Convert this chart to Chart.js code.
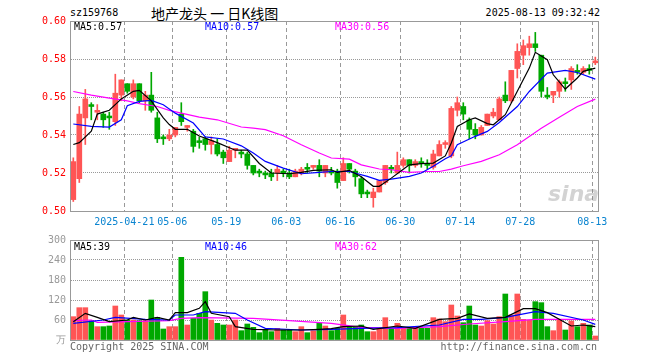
<!DOCTYPE html>
<html>
<head>
<meta charset="utf-8">
<script src="https://cdn.jsdelivr.net/npm/chart.js@4.4.1/dist/chart.umd.min.js"></script>
<style>
body { margin: 0; background: #fff; width: 660px; height: 360px; position: relative; overflow: hidden;
       font-family: "DejaVu Sans Mono", monospace; font-size: 10px; }
.t { position: absolute; white-space: nowrap; line-height: 12px; }
.box { position: absolute; border: 1px solid #999; pointer-events: none; }
canvas { position: absolute; left: 0; }
</style>
</head>
<body>
<div class="t" style="left:70px;top:7px">sz159768</div>
<div class="t" style="left:151px;top:4px;font-family:'Noto Sans CJK SC';font-size:14px;line-height:18px">地产龙头 一 日K线图</div>
<div class="t" style="right:60px;top:7px">2025-08-13 09:32:42</div>

<canvas id="kline" width="660" height="232" style="top:0"></canvas>
<canvas id="vol" width="660" height="130" style="top:230px"></canvas>

<!-- 两个面板的外框 -->
<div class="box" style="left:70px;top:21px;width:527px;height:189px"></div>
<div class="box" style="left:70px;top:240px;width:527px;height:99px"></div>

<div class="t" style="left:74px;top:21px;color:#000">MA5:0.57</div>
<div class="t" style="left:205px;top:21px;color:#00f">MA10:0.57</div>
<div class="t" style="left:335px;top:21px;color:#f0f">MA30:0.56</div>
<div class="t" style="left:548px;top:181px;font:italic bold 22px 'DejaVu Sans';color:rgba(130,130,130,0.35)">sina</div>

<div class="t" style="left:74px;top:241px;color:#000">MA5:39</div>
<div class="t" style="left:205px;top:241px;color:#00f">MA10:46</div>
<div class="t" style="left:335px;top:241px;color:#f0f">MA30:62</div>

<div class="t" style="left:70px;top:341px;color:#666">Copyright 2025 SINA.COM</div>
<div class="t" style="right:63px;top:341px;color:#666">http://finance.sina.com.cn</div>

<script>
// 日K数据 2025-04-08 .. 2025-08-13
const opens  = [0.506,0.517,0.549,0.556,0.552,0.551,0.550,0.547,0.561,0.567,
                0.560,0.567,0.558,0.561,0.549,0.539,0.538,0.540,0.551,0.544,
                0.542,0.537,0.538,0.535,0.535,0.531,0.526,0.532,0.531,0.530,
                0.524,0.521,0.520,0.520,0.520,0.521,0.520,0.518,0.520,0.523,
                0.523,0.524,0.520,0.521,0.521,0.516,0.525,0.521,0.517,0.510,
                0.507,0.510,0.515,0.523,0.520,0.524,0.527,0.524,0.526,0.525,
                0.523,0.529,0.535,0.529,0.553,0.555,0.548,0.543,0.540,0.545,
                0.550,0.548,0.561,0.558,0.575,0.582,0.586,0.588,0.582,0.561,
                0.561,0.563,0.568,0.569,0.574,0.573,0.575,0.578];
const highs  = [0.528,0.555,0.564,0.557,0.556,0.552,0.552,0.572,0.569,0.567,
                0.569,0.567,0.563,0.573,0.552,0.540,0.543,0.544,0.557,0.545,
                0.543,0.539,0.539,0.539,0.538,0.532,0.534,0.533,0.532,0.531,
                0.524,0.522,0.521,0.522,0.524,0.522,0.522,0.522,0.523,0.525,
                0.524,0.527,0.524,0.523,0.522,0.528,0.525,0.522,0.518,0.511,
                0.512,0.516,0.524,0.524,0.531,0.528,0.527,0.527,0.528,0.527,
                0.532,0.537,0.537,0.555,0.560,0.557,0.549,0.546,0.545,0.551,
                0.554,0.560,0.568,0.574,0.588,0.590,0.592,0.594,0.582,0.565,
                0.563,0.569,0.570,0.576,0.577,0.576,0.577,0.581];
const lows   = [0.505,0.515,0.535,0.548,0.548,0.544,0.543,0.545,0.558,0.562,
                0.559,0.557,0.553,0.552,0.536,0.535,0.537,0.539,0.545,0.542,
                0.531,0.533,0.532,0.530,0.529,0.525,0.526,0.528,0.528,0.522,
                0.519,0.518,0.517,0.516,0.516,0.518,0.517,0.518,0.519,0.520,
                0.522,0.518,0.518,0.519,0.512,0.516,0.520,0.513,0.507,0.507,
                0.502,0.510,0.514,0.520,0.520,0.523,0.520,0.523,0.523,0.522,
                0.522,0.529,0.533,0.528,0.550,0.548,0.538,0.538,0.540,0.545,
                0.549,0.548,0.557,0.557,0.570,0.577,0.582,0.584,0.560,0.559,
                0.557,0.560,0.563,0.564,0.572,0.572,0.572,0.577];
const closes = [0.526,0.551,0.559,0.555,0.553,0.548,0.549,0.562,0.569,0.563,
                0.567,0.558,0.561,0.553,0.538,0.538,0.540,0.544,0.547,0.545,
                0.534,0.536,0.535,0.537,0.530,0.528,0.532,0.533,0.530,0.524,
                0.520,0.520,0.519,0.518,0.522,0.520,0.518,0.521,0.522,0.522,
                0.524,0.521,0.524,0.520,0.515,0.525,0.522,0.518,0.509,0.509,
                0.510,0.516,0.524,0.522,0.524,0.527,0.524,0.526,0.525,0.524,
                0.530,0.535,0.536,0.554,0.557,0.551,0.543,0.540,0.544,0.551,
                0.552,0.559,0.558,0.574,0.584,0.587,0.588,0.586,0.563,0.560,
                0.563,0.568,0.567,0.575,0.573,0.575,0.574,0.579];
const volumes = [70,97,97,58,40,40,42,102,75,60,
                 60,58,58,120,68,33,40,40,248,45,
                 65,80,145,60,50,45,45,60,28,48,
                 38,22,32,25,35,30,30,25,40,22,
                 28,50,42,28,35,75,40,40,45,25,
                 25,35,67,35,50,35,35,35,35,35,
                 67,63,55,105,72,52,102,45,42,58,
                 48,70,138,75,138,62,60,115,112,40,
                 28,62,30,57,40,50,45,12];

// 均线（从图上读取的点）
const ma5Idx  = [0,1,3,4,6,8,10,11,13,15,16,17,19,21,24,27,29,31,33,36,38,40,43,44,46,48,50,51,53,55,56,58,60,62,63,64,66,67,69,70,72,74,76,77,79,80,82,84,85,87];
const ma5Val  = [.535,.536,.542,.551,.553,.559,.563,.5635,.558,.549,.5455,.543,.543,.5395,.536,.532,.532,.525,.520,.5196,.5203,.5214,.5217,.5203,.5214,.518,.513,.513,.5173,.522,.5243,.5249,.5252,.529,.5358,.5445,.548,.549,.546,.5454,.5507,.563,.5752,.5835,.5796,.5717,.5642,.570,.5735,.5752];
const ma10Idx = [0,3,6,8,9,11,13,15,17,20,22,25,28,30,32,35,38,41,43,46,49,51,53,56,58,60,62,63,64,67,69,71,74,76,78,79,82,84,87];
const ma10Val = [.5458,.5445,.5442,.548,.5554,.5577,.5582,.5559,.5515,.5463,.539,.5379,.5343,.5305,.5261,.5226,.5196,.5203,.5208,.5208,.5182,.5161,.5168,.5182,.520,.5235,.5275,.529,.5349,.5393,.5419,.5466,.555,.5629,.5694,.5726,.574,.5729,.5694];
const ma30Idx = [0,3,6,9,11,14,16,18,21,24,28,30,32,35,38,41,43,46,48,51,53,56,59,61,63,65,68,71,74,78,81,84,87];
const ma30Val = [.5629,.561,.5594,.558,.5565,.555,.553,.5515,.5494,.548,.5442,.5436,.5428,.5396,.5349,.5305,.5279,.5273,.5243,.5221,.5217,.5203,.5208,.5208,.522,.5238,.5261,.5296,.5349,.5436,.5494,.555,.5589];

const vma5Idx  = [0,2,4,6,9,10,12,14,16,17,19,21,22,23,26,27,30,34,38,41,43,45,48,50,54,57,61,64,66,69,72,75,77,79,83,85,87];
const vma5Val  = [55,80,68,55,60,68,60,68,60,82,82,95,115,80,70,40,32,30,30,32,34,40,42,32,42,35,62,65,78,65,68,94,94,82,42,45,40];
const vma10Idx = [0,5,7,12,16,17,20,22,27,29,32,38,43,48,54,61,65,68,72,77,80,85,87];
const vma10Val = [50,60,68,62,60,75,75,85,80,60,35,30,32,35,37,45,62,62,68,85,80,60,47];
const vma30Idx = [0,3,4,16,18,21,30,36,43,48,54,61,66,72,77,87];
const vma30Val = [58,60,53,58,65,67,65,58,50,38,35,40,48,55,62,62];

// 日期刻度（交易日序号）
const tickIdx    = [9,17,26,36,45,55,65,75,87];
const tickLabels = ['2025-04-21','05-06','05-19','06-03','06-16','06-30','07-14','07-28','08-13'];

const UP = '#ff5555', DOWN = '#00a800';
const GRID = '#999999', FRAME = '#999999';
const colors = closes.map((c, i) => c >= opens[i] ? UP : DOWN);
const font = { family: 'DejaVu Sans Mono', size: 10 };

function points(idx, vals) {
    return idx.map((x, k) => ({ x: x, y: vals[k] }));
}

function maLine(idx, vals, color) {
    return { type: 'line', data: points(idx, vals), borderColor: color, borderWidth: 1.2,
             pointRadius: 0, tension: 0, order: 0 };
}

// 竖向虚线落在K线左侧边界上
function xScale(showLabels, height) {
    return {
        type: 'linear', min: -0.55, max: 87.45, offset: false,
        afterBuildTicks: s => { s.ticks = tickIdx.map(v => ({ value: v - 0.5 })); },
        afterFit: s => { s.height = height; },
        ticks: { display: showLabels, autoSkip: false, maxRotation: 0, padding: 5, color: '#0a84d0', font: font,
                 callback: v => tickLabels[tickIdx.indexOf(v + 0.5)] },
        grid: { offset: false, color: GRID, drawTicks: false },
        border: { display: true, color: FRAME, dash: [4, 3] }
    };
}

const common = {
    responsive: false,
    animation: false,
    plugins: { legend: { display: false }, tooltip: { enabled: false } }
};

new Chart(document.getElementById('kline'), {
    type: 'bar',
    data: {
        datasets: [
            maLine(ma5Idx, ma5Val, '#000'),
            maLine(ma10Idx, ma10Val, '#0000ff'),
            maLine(ma30Idx, ma30Val, '#ff00ff'),
            { data: closes.map((c, i) => ({ x: i, y: [Math.min(opens[i], c), Math.max(opens[i], c)] })),
              backgroundColor: colors, barThickness: 5, minBarLength: 1, grouped: false, order: 1 },
            { data: closes.map((c, i) => ({ x: i, y: [lows[i], highs[i]] })),
              backgroundColor: colors, barThickness: 1, grouped: false, order: 2 }
        ]
    },
    options: {
        ...common,
        layout: { padding: { top: 21, right: 62, left: 0, bottom: 0 } },
        scales: {
            x: xScale(true, 21),
            y: {
                min: 0.5, max: 0.6,
                afterFit: s => { s.width = 70; },
                ticks: { stepSize: 0.02, padding: 4, color: '#ff0000', font: font, callback: v => v.toFixed(2) },
                grid: { color: GRID, drawTicks: false },
                border: { display: true, color: FRAME, dash: [1, 1] }
            }
        }
    }
});

new Chart(document.getElementById('vol'), {
    type: 'bar',
    data: {
        datasets: [
            maLine(vma5Idx, vma5Val, '#000'),
            maLine(vma10Idx, vma10Val, '#0000ff'),
            maLine(vma30Idx, vma30Val, '#ff00ff'),
            { data: volumes.map((v, i) => ({ x: i, y: v })),
              backgroundColor: colors, barThickness: 5, grouped: false, order: 1 }
        ]
    },
    options: {
        ...common,
        layout: { padding: { top: 10, right: 62, left: 0, bottom: 0 } },
        scales: {
            x: xScale(false, 20),
            y: {
                min: 0, max: 300,
                afterFit: s => { s.width = 70; },
                ticks: { stepSize: 60, padding: 4, font: font, color: '#999',
                         callback: v => v === 0 ? '万' : v },
                grid: { color: GRID, drawTicks: false },
                border: { display: true, color: FRAME, dash: [1, 1] }
            }
        }
    }
});
</script>
</body>
</html>
